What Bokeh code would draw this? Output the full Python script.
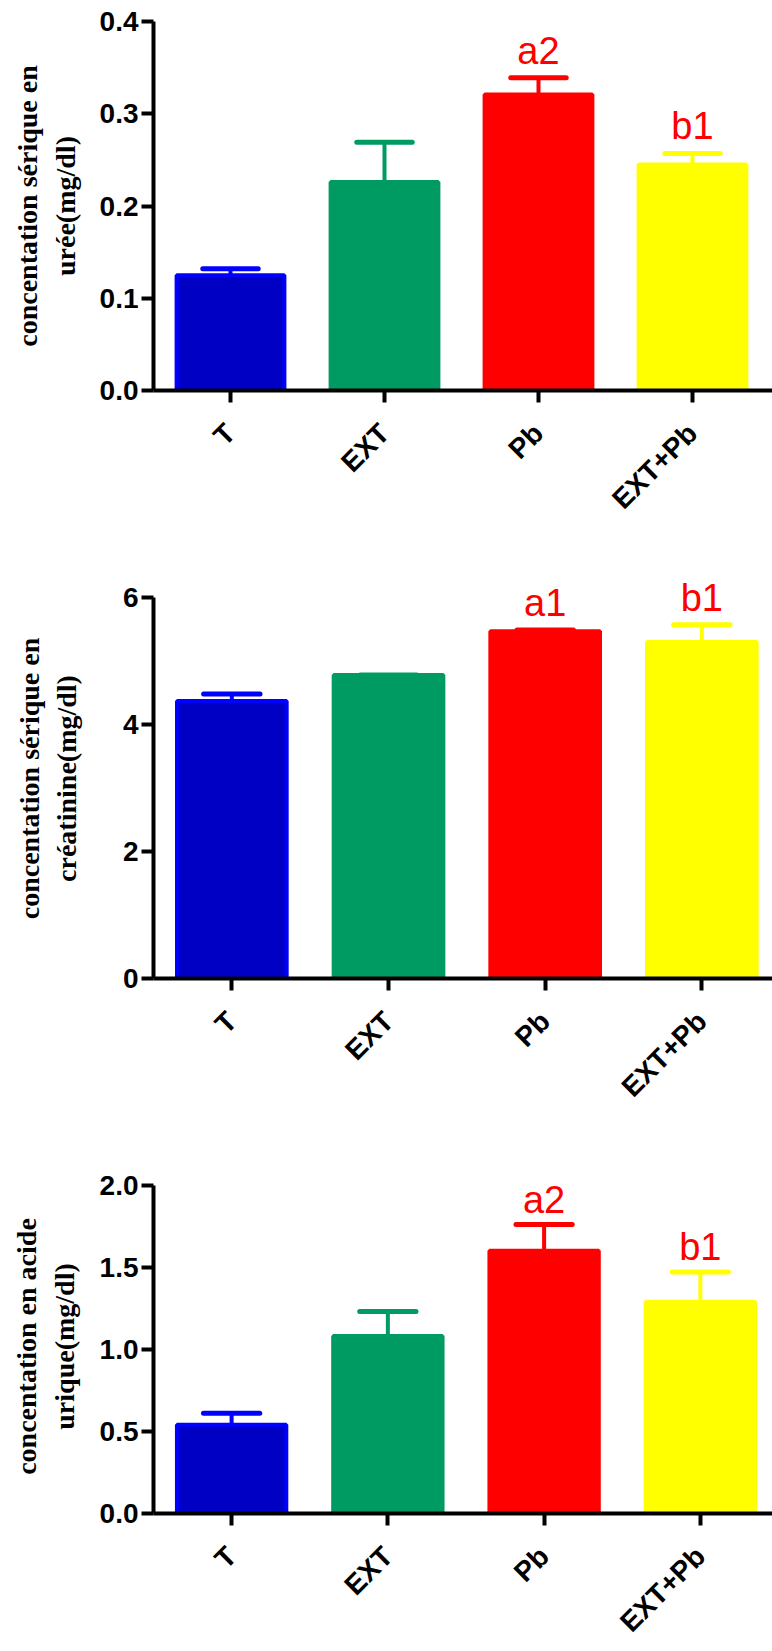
import math
from bokeh.plotting import figure
from bokeh.layouts import column
from bokeh.models import FixedTicker, Range1d, NumeralTickFormatter, ColumnDataSource
from bokeh.core.properties import value
from bokeh.embed import file_html
from bokeh.resources import INLINE

# ---------------- data ----------------
groups = ["T", "EXT", "Pb", "EXT+Pb"]
fill_colors = ["#0000C4", "#009B62", "#FF0000", "#FFFF00"]
edge_colors = ["#0000FF", "#009B62", "#FF0000", "#FFFF00"]

uree_mean = [0.125, 0.226, 0.321, 0.245]
uree_err = [0.007, 0.043, 0.018, 0.012]
uree_sig = ["", "", "a2", "b1"]
uree_ticks = [0.0, 0.1, 0.2, 0.3, 0.4]

creat_mean = [4.37, 4.78, 5.47, 5.30]
creat_err = [0.11, 0.0, 0.02, 0.27]
creat_sig = ["", "", "a1", "b1"]
creat_ticks = [0, 2, 4, 6]

urique_mean = [0.54, 1.08, 1.60, 1.29]
urique_err = [0.07, 0.15, 0.16, 0.18]
urique_sig = ["", "", "a2", "b1"]
urique_ticks = [0.0, 0.5, 1.0, 1.5, 2.0]

W = 772


def make(mean, err, sig, ticks, fmt, ylabel, height, top_px, ext_px, bbottom, bleft,
         spacing, label_standoff):
    xs = list(range(len(groups)))
    frame_w = W - bleft
    axis_h = height - top_px - bbottom
    px_to_data = (ticks[-1] - ticks[0]) / axis_h
    y_end = ticks[-1] + ext_px * px_to_data
    x_end = -0.5 + frame_w / spacing
    p = figure(width=W, height=height, output_backend="svg", toolbar_location=None,
               x_range=Range1d(-0.5, x_end), y_range=Range1d(ticks[0], y_end),
               min_border_top=top_px - ext_px, min_border_bottom=bbottom,
               min_border_left=bleft, min_border_right=0,
               background_fill_color="white", border_fill_color="white")
    p.outline_line_color = None
    p.grid.visible = False

    tops = [m + e for m, e in zip(mean, err)]
    sig_y = [t + 27 * px_to_data for t in tops]
    src = ColumnDataSource(dict(x=xs, mean=mean, top=tops, sig_y=sig_y,
                                x0=[x - 0.18 for x in xs], x1=[x + 0.18 for x in xs],
                                fill=fill_colors, edge=edge_colors, sig=sig))

    # error bars (upper only)
    p.segment(x0="x", y0="mean", x1="x", y1="top", source=src,
              line_color="edge", line_width=4)
    p.segment(x0="x0", y0="top", x1="x1", y1="top", source=src,
              line_color="edge", line_width=5, line_cap="round")
    # bars
    p.vbar(x="x", top="mean", bottom=0, width=0.7, source=src,
           fill_color="fill", line_color="edge", line_width=4)
    # significance letters
    p.text(x="x", y="sig_y", text="sig", source=src, text_color="#FF0000",
           text_font=value("Liberation Sans"), text_font_size="38px",
           text_align="center", text_baseline="middle")

    # x axis
    xa = p.xaxis[0]
    xa.ticker = FixedTicker(ticks=xs)
    xa.major_label_overrides = {i: g for i, g in enumerate(groups)}
    xa.major_label_orientation = math.pi / 4
    xa.major_label_text_font = "Liberation Sans"
    xa.major_label_text_font_style = "bold"
    xa.major_label_text_font_size = "28px"
    xa.major_label_text_color = "black"
    xa.major_label_standoff = 26
    xa.axis_line_width = 4
    xa.axis_line_color = "black"
    xa.major_tick_line_width = 4
    xa.major_tick_line_color = "black"
    xa.major_tick_out = 12
    xa.major_tick_in = 0
    xa.minor_tick_line_color = None

    # y axis
    ya = p.yaxis[0]
    ya.bounds = (ticks[0], ticks[-1])
    ya.ticker = FixedTicker(ticks=ticks)
    ya.formatter = NumeralTickFormatter(format=fmt)
    ya.major_label_text_font = "Liberation Sans"
    ya.major_label_text_font_style = "bold"
    ya.major_label_text_font_size = "28px"
    ya.major_label_text_color = "black"
    ya.major_label_standoff = 3
    ya.axis_line_width = 4
    ya.axis_line_color = "black"
    ya.major_tick_line_width = 4
    ya.major_tick_line_color = "black"
    ya.major_tick_out = 12
    ya.major_tick_in = 0
    ya.minor_tick_line_color = None
    ya.axis_label = ylabel
    ya.axis_label_text_font = "Liberation Serif"
    ya.axis_label_text_font_style = "bold"
    ya.axis_label_text_font_size = "28px"
    ya.axis_label_text_line_height = 1.2
    ya.axis_label_text_color = "black"
    ya.axis_label_standoff = label_standoff
    return p


p1 = make(uree_mean, uree_err, uree_sig, uree_ticks, "0.0",
          "concentation sérique en\nurée(mg/dl)",
          560, 21, 0, 170, 153, 154, 16)
p2 = make(creat_mean, creat_err, creat_sig, creat_ticks, "0",
          "concentation sérique en\ncréatinine(mg/dl)",
          590, 37, 19, 172, 128, 163, 38)
p3 = make(urique_mean, urique_err, urique_sig, urique_ticks, "0.0",
          "concentation en acide\nurique(mg/dl)",
          501, 35, 6, 109, 150, 157, 17)

layout = column(p1, p2, p3, spacing=0)
open("out.html", "w").write(file_html(layout, INLINE))
